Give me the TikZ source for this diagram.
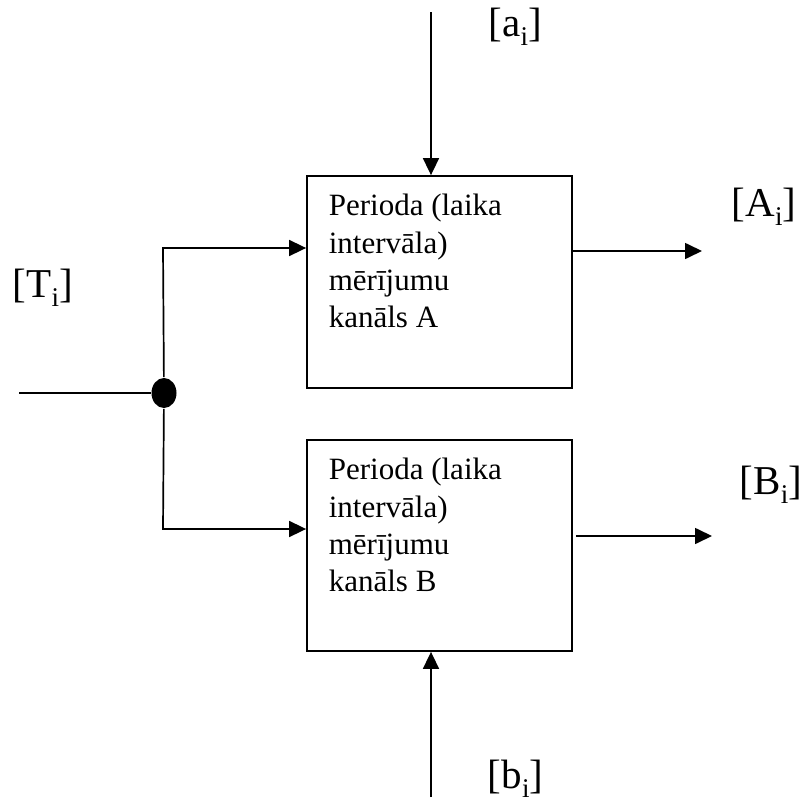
\documentclass[tikz,border=0pt]{standalone}
\usepackage{fontspec}
\setmainfont{Liberation Serif}
\usetikzlibrary{arrows.meta,shapes.geometric}
\newcommand{\subi}{\raisebox{-0.24em}{\fontsize{27}{27}\selectfont i}}
\begin{document}
\begin{tikzpicture}[x=1pt,y=-1pt, line width=1.7pt,
  arr/.style={-{Triangle[length=17pt,width=16pt]}},
  box/.style={draw, line width=1.8pt, minimum width=265pt, minimum height=212pt, inner sep=0},
  boxtext/.style={anchor=north west, align=left, inner sep=0, font=\fontsize{31}{37.2}\selectfont},
  lab/.style={anchor=base west, inner sep=0, font=\fontsize{41}{47}\selectfont},
  junction/.style={ellipse, fill, minimum width=25pt, minimum height=30pt, inner sep=0}]
\useasboundingbox (0,0) rectangle (807,803);
% boxes
\node[box] (A) at (439.5,282) {};
\node[box, minimum height=211pt] (B) at (439.5,545.5) {};
\node[boxtext] (tA) at (328,193.5) {Perioda (laika\\intervāla)\\mērījumu\\kanāls A};
\node[boxtext] (tB) at (328,457.5) {Perioda (laika\\intervāla)\\mērījumu\\kanāls B};
% junction
\node[junction] (J) at (164,393) {};
\coordinate (in) at (19,393);
\draw (in) -- (J);
\coordinate (ja) at (163,248);
\coordinate (jb) at (163,529);
\draw[arr] (J) -- (ja) -- (ja -| A.west);
\draw[arr] (J) -- (jb) -- (jb -| B.west);
% outputs
\coordinate (oa) at (702,251);
\coordinate (ob) at (712,536);
\draw[arr] (A.east |- oa) -- (oa);
\draw[arr] ([xshift=3pt]B.east |- ob) -- (ob);
% top and bottom inputs
\coordinate (ia) at (431,12);
\coordinate (ib) at (431,797);
\draw[arr] (ia) -- (ia |- A.north);
\draw[arr] (ib) -- (ib |- B.south);
% labels
\node[lab] (la) at (488,36) {[a\subi]};
\node[lab] (lb) at (487,788) {[b\subi]};
\node[lab] (lA) at (731,216) {[A\subi]};
\node[lab] (lB) at (739,494) {[B\subi]};
\node[lab] (lT) at (12,297) {[T\subi]};
\end{tikzpicture}
\end{document}
